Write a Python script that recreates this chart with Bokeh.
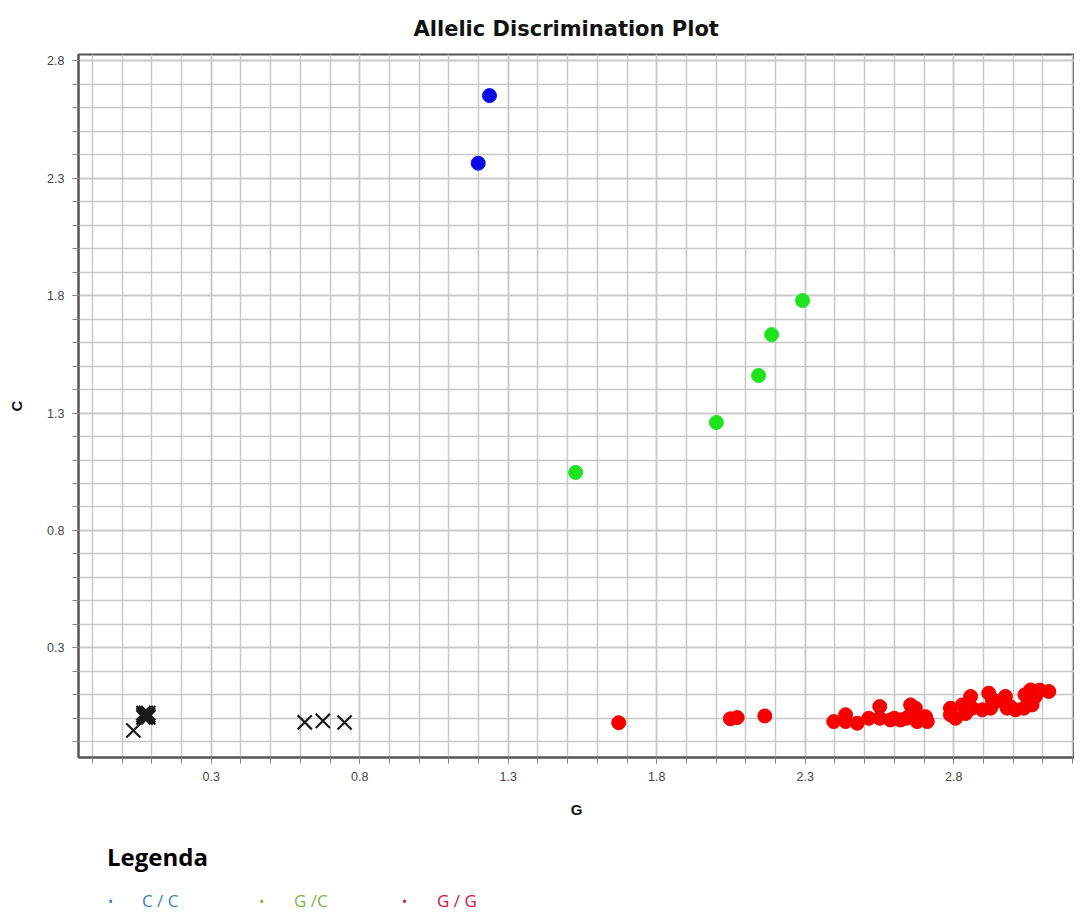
import numpy as np
from bokeh.plotting import figure
from bokeh.models import ColumnDataSource, FixedTicker, Title, Div
from bokeh.layouts import column
from bokeh.embed import file_html
from bokeh.resources import INLINE

# ---------------- data ----------------
cc_x = [1.237, 1.199]
cc_y = [2.652, 2.364]

gc_x = [1.527, 2.001, 2.143, 2.187, 2.291]
gc_y = [1.047, 1.260, 1.460, 1.634, 1.779]

gg_x = [1.672, 2.048, 2.071, 2.164,
        2.396, 2.436, 2.436, 2.475, 2.514, 2.551, 2.551, 2.587, 2.600, 2.621,
        2.640, 2.655, 2.655, 2.671, 2.677, 2.705, 2.711,
        2.789, 2.789, 2.806, 2.829, 2.840, 2.857, 2.862, 2.896, 2.918, 2.924,
        2.930, 2.941, 2.974, 2.980, 2.990, 3.008, 3.036, 3.040, 3.059, 3.064,
        3.075, 3.090, 3.120]
gg_y = [-0.019, -0.002, 0.003, 0.010,
        -0.014, 0.015, -0.014, -0.021, 0.000, 0.050, 0.000, -0.007, 0.000, -0.007,
        0.000, 0.057, 0.015, 0.043, -0.014, 0.007, -0.014,
        0.043, 0.015, 0.000, 0.057, 0.020, 0.093, 0.043, 0.036, 0.107, 0.043,
        0.080, 0.071, 0.093, 0.043, 0.050, 0.036, 0.043, 0.100, 0.121, 0.057,
        0.093, 0.120, 0.114]

ntc_x = [0.038,
         0.072, 0.080, 0.088, 0.072, 0.080, 0.088, 0.072, 0.080, 0.088,
         0.615, 0.676, 0.749]
ntc_y = [-0.052,
         0.004, 0.004, 0.004, 0.013, 0.013, 0.013, 0.022, 0.022, 0.022,
         -0.017, -0.011, -0.018]

x_tick_labels = ["0.3", "0.8", "1.3", "1.8", "2.3", "2.8"]
y_tick_labels = ["0.3", "0.8", "1.3", "1.8", "2.3", "2.8"]
x_major = [float(s) for s in x_tick_labels]
y_major = [float(s) for s in y_tick_labels]
x_minor = [round(v, 1) for v in np.arange(-0.1, 3.25, 0.1)]
y_minor = [round(v, 1) for v in np.arange(-0.1, 2.85, 0.1)]

title_text = "Allelic Discrimination Plot"
x_label = "G"
y_label = "C"
legend_title = "Legenda"
legend_items = ["C / C", "G /C", "G / G"]
legend_colors = ["#3a7fc1", "#7ab648", "#d2143a"]

# ---------------- main figure ----------------
p = figure(frame_width=996, frame_height=703,
           min_border_left=78, min_border_right=0, min_border_top=53, min_border_bottom=70,
           x_range=(-0.1468, 3.2067), y_range=(-0.167, 2.827),
           output_backend="svg", toolbar_location=None,
           background_fill_color="white", border_fill_color="white")

p.title = Title(text=title_text, align="left", offset=335, text_font="DejaVu Sans",
                text_font_style="bold", text_font_size="21px", text_color="#111111",
                standoff=28)

p.outline_line_color = "#555555"
p.outline_line_width = 2

for ax, major, minor, labels in ((p.xaxis, x_major, x_minor, x_tick_labels),
                                 (p.yaxis, y_major, y_minor, y_tick_labels)):
    ax.ticker = FixedTicker(ticks=major, minor_ticks=minor)
    ax.major_label_overrides = {m: l for m, l in zip(major, labels)}
    ax.axis_line_color = "#555555"
    ax.axis_line_width = 2
    ax.major_tick_line_color = "#888888"
    ax.minor_tick_line_color = "#888888"
    ax.major_tick_out = 6
    ax.major_tick_in = 0
    ax.minor_tick_out = 6
    ax.minor_tick_in = 0
    ax.major_label_text_font = "Liberation Sans"
    ax.major_label_text_font_size = "12.5px"
    ax.major_label_text_color = "#444444"
    ax.axis_label_text_font = "Liberation Sans"
    ax.axis_label_text_font_style = "bold"
    ax.axis_label_text_font_size = "15px"
    ax.axis_label_text_color = "#111111"
p.xaxis.major_label_standoff = 8
p.yaxis.major_label_standoff = 8
p.xaxis.axis_label = x_label
p.yaxis.axis_label = y_label
p.xaxis.axis_label_standoff = 17
p.yaxis.axis_label_standoff = 19

for g in (p.xgrid, p.ygrid):
    g.grid_line_color = "#c8c8c8"
    g.grid_line_width = 1.5
    g.minor_grid_line_color = "#c8c8c8"
    g.minor_grid_line_width = 1.5

p.scatter(x="x", y="y", source=ColumnDataSource(dict(x=ntc_x, y=ntc_y)),
          marker="x", size=20, line_color="#1a1a1a", line_width=2.2)
p.scatter(x="x", y="y", source=ColumnDataSource(dict(x=gg_x, y=gg_y)),
          marker="circle", size=14, fill_color="#f80000", line_color="#f00000")
p.scatter(x="x", y="y", source=ColumnDataSource(dict(x=gc_x, y=gc_y)),
          marker="circle", size=14, fill_color="#1ee31e", line_color="#1ee31e")
p.scatter(x="x", y="y", source=ColumnDataSource(dict(x=cc_x, y=cc_y)),
          marker="circle", size=14, fill_color="#0a0ae6", line_color="#0a0ae6")

# ---------------- legend block (HTML text below the chart) ----------------
bullet_left = [108, 259, 402]
text_left = [142, 294, 437]
parts = ['<div style="position:relative;width:1074px;height:85px;'
         'font-family:\'Open Sans\',sans-serif;">',
         '<span style="position:absolute;left:107px;top:18px;font-size:24px;line-height:24px;'
         'font-weight:bold;color:#000;white-space:nowrap;">%s</span>' % legend_title]
for bl, tl, t, c in zip(bullet_left, text_left, legend_items, legend_colors):
    parts.append('<span style="position:absolute;left:%dpx;top:68px;font-size:14px;line-height:14px;'
                 'color:%s;white-space:nowrap;">&#8226;</span>' % (bl, c))
    parts.append('<span style="position:absolute;left:%dpx;top:65px;font-size:17px;line-height:17px;'
                 'color:%s;white-space:nowrap;">%s</span>' % (tl, c, t))
parts.append('</div>')
leg = Div(text="".join(parts), width=1074, height=85, margin=(0, 0, 0, 0))

open("out.html", "w").write(file_html(column(p, leg, spacing=0), INLINE))
